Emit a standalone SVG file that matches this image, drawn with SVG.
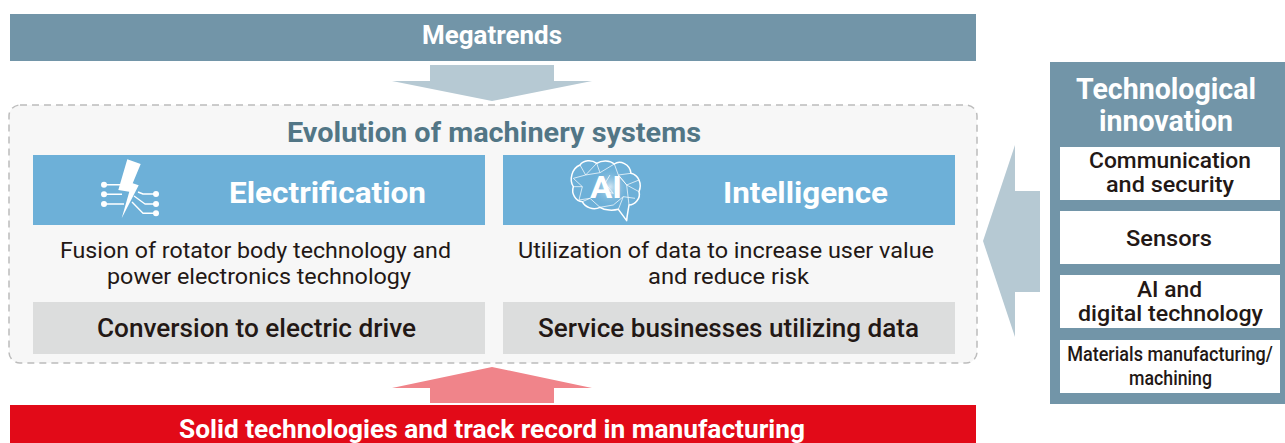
<svg xmlns="http://www.w3.org/2000/svg" width="1285" height="443" viewBox="0 0 1285 443">
<defs>
<radialGradient id="glow" cx="50%" cy="50%" r="50%"><stop offset="0" stop-color="#d4e7f3"/><stop offset="1" stop-color="#6db0d8" stop-opacity="0"/></radialGradient>
</defs>
<style>
text{font-family:"Roboto","Liberation Sans",sans-serif;text-anchor:middle}
.w{fill:#fff;font-weight:700}
.d{fill:#231815;font-weight:500}
.r{fill:#231815;font-weight:400}
.blue{fill:#6db0d8}
.gray{fill:#dcdddd}
.wh{fill:#fff}
.ln{fill:none;stroke:#fff;stroke-width:1.4;stroke-linejoin:round}
.net{fill:none;stroke:#fff;stroke-width:2.4;stroke-linejoin:round;opacity:.9}
.out{fill:none;stroke:#fff;stroke-width:4.5;stroke-linejoin:round}
.dot{fill:#fff}
</style>
<rect width="1285" height="443" fill="#fff"/>
<g id="connectors">
<polygon fill="#b6c9d3" points="430,65 554,65 554,81 592,81 492,101 392,81 430,81"/>
<polygon fill="#f0848a" points="430,403 554,403 554,388 592,388 492,367 392,388 430,388"/>
<polygon fill="#b6c9d3" points="1040,191 1040,292 1015,292 1015,337 983,241 1015,145 1015,191"/>
</g>
<g id="megatrends">
<rect x="10" y="14" width="966" height="47" fill="#7295a8"/>
<text class="w" x="492" y="44" font-size="25" textLength="140" lengthAdjust="spacingAndGlyphs">Megatrends</text>
</g>
<g id="evolution">
<rect x="9" y="105" width="968" height="258" rx="11" fill="#f7f7f7" stroke="#bcbcbc" stroke-width="1.5" stroke-dasharray="7 5"/>
<text x="494" y="142" font-size="28" font-weight="700" fill="#527686" textLength="414" lengthAdjust="spacingAndGlyphs">Evolution of machinery systems</text>
</g>
<g id="electrification">
<rect class="blue" x="33" y="155" width="452" height="70"/>
<g id="icon-bolt">
<path class="ln" d="M104 184.700H122M104 194.300H122M104 204H124M138 192L143 194H156M134 196L145 204H156M132 202L143 213.300H156"/>
<circle class="dot" cx="104" cy="184.700" r="3"/><circle class="dot" cx="104" cy="194.300" r="3"/><circle class="dot" cx="104" cy="204" r="3"/>
<circle class="dot" cx="156" cy="194" r="3"/><circle class="dot" cx="156" cy="204" r="3"/><circle class="dot" cx="156" cy="213.300" r="3"/>
<polygon class="wh" points="127.300,159.300 140.700,164 132.700,183.300 138.700,185.300 121.700,218.300 129.300,191.700 118.300,190"/>
</g>
<text class="w" x="327.500" y="203" font-size="30" textLength="197" lengthAdjust="spacingAndGlyphs">Electrification</text>
<text class="r" x="255.500" y="258" font-size="22" textLength="391" lengthAdjust="spacingAndGlyphs">Fusion of rotator body technology and</text>
<text class="r" x="259" y="284" font-size="22" textLength="304" lengthAdjust="spacingAndGlyphs">power electronics technology</text>
<rect class="gray" x="33" y="302" width="452" height="52"/>
<text class="d" x="256.500" y="337" font-size="25" textLength="319" lengthAdjust="spacingAndGlyphs">Conversion to electric drive</text>
</g>
<g id="intelligence">
<rect class="blue" x="503" y="155" width="452" height="70"/>
<g id="icon-ai">
<circle cx="610" cy="187" r="20" fill="url(#glow)"/>
<g transform="translate(555,150) scale(.3333)">
<path class="out" d="M75 45C85 30 110 28 125 40C140 30 165 30 178 42C195 30 225 42 228 70C250 75 262 100 252 125C258 145 240 165 222 165C220 180 216 195 215 212L190 178C175 182 150 182 135 172C115 182 90 172 82 155C62 155 48 130 55 110C42 90 50 55 75 45Z"/>
<path class="net" d="M75 45L92 75L55 85L82 110L55 110M92 75L125 40L135 68L178 42L190 75L228 70M92 75L135 68M82 110L72 150L105 145L135 172M82 155L105 145M190 75L215 105L252 90M215 105L252 125M215 105L222 165M215 105L190 75M205 140L240 145M205 140L175 165L135 172M205 140L190 178M150 100L175 130M150 100L165 75M130 120L175 130"/>
</g>
<text x="606" y="198" font-size="31" font-weight="700" fill="#fff" textLength="32" lengthAdjust="spacingAndGlyphs">AI</text>
</g>
<text class="w" x="805.500" y="203" font-size="30" textLength="165" lengthAdjust="spacingAndGlyphs">Intelligence</text>
<text class="r" x="726" y="258" font-size="22" textLength="416" lengthAdjust="spacingAndGlyphs">Utilization of data to increase user value</text>
<text class="r" x="728.500" y="284" font-size="22" textLength="161" lengthAdjust="spacingAndGlyphs">and reduce risk</text>
<rect class="gray" x="503" y="302" width="452" height="52"/>
<text class="d" x="728.500" y="337" font-size="25" textLength="381" lengthAdjust="spacingAndGlyphs">Service businesses utilizing data</text>
</g>
<g id="solid-technologies">
<rect x="10" y="405" width="966" height="38" fill="#e20a18"/>
<text class="w" x="492" y="438" font-size="25" textLength="626" lengthAdjust="spacingAndGlyphs">Solid technologies and track record in manufacturing</text>
</g>
<g id="technological-innovation">
<rect x="1050" y="62" width="235" height="342" fill="#7295a8"/>
<text class="w" x="1166" y="99" font-size="29" textLength="180" lengthAdjust="spacingAndGlyphs">Technological</text>
<text class="w" x="1166" y="131" font-size="29" textLength="134" lengthAdjust="spacingAndGlyphs">innovation</text>
</g>
<g id="communication">
<rect class="wh" x="1060" y="147" width="220" height="53"/>
<text class="d" x="1170" y="168" font-size="22" textLength="162" lengthAdjust="spacingAndGlyphs">Communication</text>
<text class="d" x="1170" y="192" font-size="22" textLength="128" lengthAdjust="spacingAndGlyphs">and security</text>
</g>
<g id="sensors">
<rect class="wh" x="1060" y="211" width="220" height="53"/>
<text class="d" x="1169" y="246" font-size="22" textLength="86" lengthAdjust="spacingAndGlyphs">Sensors</text>
</g>
<g id="ai-digital">
<rect class="wh" x="1060" y="275" width="220" height="53"/>
<text class="d" x="1169.500" y="297" font-size="22" textLength="65" lengthAdjust="spacingAndGlyphs">AI and</text>
<text class="d" x="1170.500" y="321" font-size="22" textLength="185" lengthAdjust="spacingAndGlyphs">digital technology</text>
</g>
<g id="materials">
<rect class="wh" x="1060" y="340" width="220" height="53"/>
<text class="d" transform="translate(1170,361) scale(.86,1)" font-size="21">Materials manufacturing/</text>
<text class="d" x="1170.500" y="385" font-size="21" textLength="83" lengthAdjust="spacingAndGlyphs">machining</text>
</g>
</svg>
